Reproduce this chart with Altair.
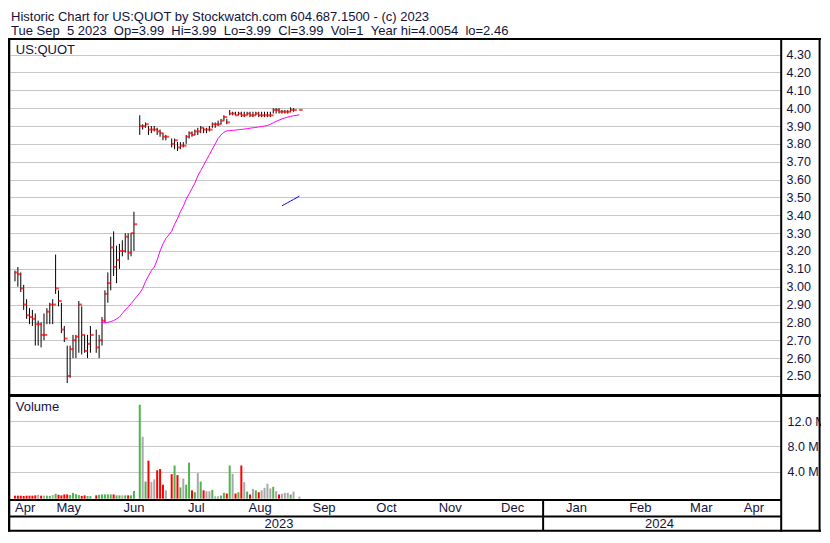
import altair as alt
import numpy as np
import pandas as pd

# ---------------- data ----------------
holidays = ["2023-05-29", "2023-06-19", "2023-07-04", "2023-09-04"]
trade_days = [d for d in pd.bdate_range("2023-04-20", "2023-09-05").strftime("%Y-%m-%d")
              if d not in holidays]

highs = [3.09, 3.11, 3.08, 3.01, 2.93, 2.88, 2.87, 2.85, 2.81, 2.80, 2.85, 2.88, 2.91, 2.93,
         3.18, 2.98, 2.91, 2.78, 2.67, 2.67, 2.73, 2.73, 2.92, 2.89, 2.73, 2.73, 2.78,
         2.76, 2.73, 2.83, 2.98, 3.08, 3.28, 3.31, 3.23, 3.24, 3.26, 3.30, 3.30, 3.30, 3.42,
         3.96, 3.91, 3.92, 3.90, 3.90, 3.90, 3.89, 3.88, 3.86, 3.85,
         3.83, 3.83, 3.81, 3.81, 3.81, 3.85, 3.87, 3.87, 3.88, 3.89, 3.90, 3.89, 3.89, 3.90,
         3.92, 3.92, 3.93, 3.94, 3.96,
         3.94, 3.99, 3.98, 3.98, 3.98, 3.98, 3.98, 3.98, 3.98, 3.98, 3.98, 3.98, 3.98, 3.98,
         3.98, 3.98, 4.00, 4.00, 4.00, 3.99, 3.99, 3.99, 4.005, 4.00,
         3.99]
lows = [3.03, 3.00, 2.97, 2.87, 2.82, 2.79, 2.78, 2.67, 2.67, 2.66, 2.70, 2.79, 2.79, 2.79,
        2.96, 2.89, 2.74, 2.69, 2.46, 2.49, 2.60, 2.60, 2.63, 2.62, 2.63, 2.60, 2.63,
        2.63, 2.60, 2.67, 2.80, 2.91, 2.98, 3.06, 3.02, 3.10, 3.17, 3.19, 3.15, 3.17, 3.20,
        3.85, 3.88, 3.89, 3.85, 3.86, 3.87, 3.85, 3.84, 3.82, 3.82,
        3.78, 3.77, 3.76, 3.77, 3.78, 3.80, 3.83, 3.84, 3.85, 3.85, 3.86, 3.86, 3.86, 3.87,
        3.89, 3.89, 3.90, 3.91, 3.93,
        3.91, 3.96, 3.96, 3.96, 3.96, 3.95, 3.95, 3.96, 3.95, 3.95, 3.96, 3.95, 3.95, 3.95,
        3.95, 3.95, 3.97, 3.97, 3.97, 3.97, 3.97, 3.97, 3.98, 3.98,
        3.99]
closes = [3.08, 3.07, 2.99, 2.90, 2.84, 2.83, 2.82, 2.79, 2.79, 2.73, 2.73, 2.86, 2.90, 2.90,
          2.99, 2.92, 2.76, 2.71, 2.50, 2.65, 2.70, 2.72, 2.90, 2.73, 2.64, 2.68, 2.73,
          2.66, 2.70, 2.81, 2.96, 3.02, 3.22, 3.11, 3.15, 3.20, 3.20, 3.28, 3.19, 3.30, 3.35,
          3.90, 3.90, 3.91, 3.88, 3.88, 3.88, 3.87, 3.86, 3.84, 3.84,
          3.80, 3.82, 3.78, 3.79, 3.79, 3.84, 3.86, 3.85, 3.87, 3.87, 3.89, 3.88, 3.88, 3.88,
          3.91, 3.91, 3.91, 3.93, 3.95,
          3.92, 3.97, 3.97, 3.96, 3.97, 3.96, 3.96, 3.97, 3.96, 3.96, 3.97, 3.96, 3.96, 3.96,
          3.96, 3.96, 3.99, 3.99, 3.98, 3.98, 3.98, 3.98, 3.99, 3.99,
          3.99]
prev_close = 3.10
volumes_m = [0.15, 0.15, 0.15, 0.10, 0.15, 0.15, 0.15, 0.20, 0.30, 0.15, 0.15, 0.15, 0.12, 0.25,
             0.45, 0.30, 0.20, 0.35, 0.35, 0.25, 0.60, 0.40, 0.25, 0.12, 0.20, 0.10, 0.08,
             0.20, 0.30, 0.35, 0.35, 0.35, 0.35, 0.35, 0.20, 0.20, 0.20, 0.20, 0.20, 0.20, 0.90,
             14.66, 9.54, 2.40, 5.74, 2.34, 2.75, 4.20, 4.40, 1.90, 1.00,
             3.58, 4.96, 3.43, 1.48, 2.87, 1.90, 5.43, 1.00, 0.70, 3.74, 2.40, 1.00, 0.86, 0.86,
             1.08, 0.06, 0.06, 0.17, 0.60,
             0.50, 4.96, 3.63, 0.50, 0.70, 4.96, 2.30, 0.80, 0.34, 1.24, 1.00, 0.70, 1.00, 1.40,
             2.05, 1.30, 1.56, 0.86, 0.34, 0.45, 0.60, 0.60, 0.34, 0.80,
             0.000001]
ma_magenta = [None] * 29 + [
    2.80, 2.797, 2.80, 2.805, 2.81, 2.82, 2.83, 2.85, 2.87, 2.885, 2.905, 2.925,
    2.965, 2.99, 3.03, 3.06, 3.09, 3.11, 3.15, 3.20, 3.24, 3.27,
    3.31, 3.35, 3.38, 3.42, 3.45, 3.49, 3.52, 3.55, 3.58, 3.62, 3.65, 3.68, 3.71, 3.74,
    3.77, 3.80, 3.83, 3.85, 3.865,
    3.873, 3.874, 3.876, 3.877, 3.879, 3.881, 3.883, 3.885, 3.888, 3.89, 3.892, 3.895,
    3.897, 3.90, 3.903, 3.91, 3.918, 3.926, 3.933, 3.94, 3.945, 3.95, 3.954, 3.957,
    3.963]
ma_blue = [None] * 89 + [3.453, 3.462, 3.471, 3.480, 3.489, 3.507]

price_ticks = [2.50, 2.60, 2.70, 2.80, 2.90, 3.00, 3.10, 3.20, 3.30, 3.40, 3.50, 3.60,
               3.70, 3.80, 3.90, 4.00, 4.10, 4.20, 4.30]
volume_ticks_m = [4, 8, 12]
month_starts = ["2023-04-01", "2023-05-01", "2023-06-01", "2023-07-01", "2023-08-01",
                "2023-09-01", "2023-10-01", "2023-11-01", "2023-12-01", "2024-01-01",
                "2024-02-01", "2024-03-01", "2024-04-01", "2024-05-01"]
month_names = ["Apr", "May", "Jun", "Jul", "Aug", "Sep", "Oct", "Nov", "Dec",
               "Jan", "Feb", "Mar", "Apr"]
year_starts = ["2023-01-01", "2024-01-01", "2025-01-01"]
year_names = ["2023", "2024"]

header1 = "Historic Chart for US:QUOT by Stockwatch.com 604.687.1500 - (c) 2023"
NB = "\u00a0"
header2 = ("Tue Sep " + NB + "5 2023 " + NB + "Op=3.99 " + NB + "Hi=3.99 " + NB + "Lo=3.99 "
           + NB + "Cl=3.99 " + NB + "Vol=1 " + NB + "Year hi=4.0054 " + NB + "lo=2.46")

# ---------------- tables ----------------
BASE = "2023-05-01"
idx = np.busday_count(BASE, trade_days).astype(int)
prev = [prev_close] + closes[:-1]
direction = ["up" if c > p + 1e-9 else ("down" if c < p - 1e-9 else "flat")
             for c, p in zip(closes, prev)]
df = pd.DataFrame({"date": trade_days, "idx": idx, "high": highs, "low": lows,
                   "close": closes, "vol": volumes_m, "dir": direction,
                   "ma": ma_magenta, "ma2": ma_blue})

X0, X1 = -6.99, 255.25  # visible weekday-index range
ms = np.busday_count(BASE, month_starts).astype(int)
grid_vals = [int(v) for v in ms if X0 < v < X1]
mids = [(max(ms[i], X0) + min(ms[i + 1], X1)) / 2 for i in range(len(month_names))]
months_df = pd.DataFrame({"name": month_names, "mid": mids})
ys = np.busday_count(BASE, year_starts).astype(int)
ymids = [(max(ys[i], X0) + min(ys[i + 1], X1)) / 2 for i in range(len(year_names))]
years_df = pd.DataFrame({"name": year_names, "mid": ymids})
jan_df = pd.DataFrame({"jan": [int(ys[1])]})
one = pd.DataFrame({"k": [0]})

# ---------------- styling ----------------
FONT = "Liberation Sans"
NAVY = "#12123c"
GRID = "#c8c8c8"
W, H = 771, 459

xs = alt.Scale(domain=[X0, X1], nice=False, zero=False)
ps = alt.Scale(domain=[2.399, 4.3818], range=[354, 0], nice=False, zero=False)
vs = alt.Scale(domain=[-0.38, 16.05], range=[459, 356], nice=False, zero=False)
X = alt.X("idx:Q", scale=xs, axis=None)

hl = alt.Chart(df).mark_rule(color="black", strokeWidth=1).encode(
    x=alt.X("idx:Q", scale=xs,
            axis=alt.Axis(values=grid_vals, grid=True, gridColor=GRID, gridWidth=1,
                          labels=False, ticks=False, domain=False, title=None)),
    y=alt.Y("low:Q", scale=ps,
            axis=alt.Axis(orient="right", values=price_ticks, format=".2f", grid=True,
                          gridColor=GRID, gridWidth=1, ticks=False, domain=False,
                          labelPadding=5, labelFont=FONT, labelFontSize=12.5,
                          labelColor=NAVY, labelAlign="left", labelBaseline="middle",
                          title=None)),
    y2="high:Q",
)
cl = alt.Chart(df).mark_tick(color="#ff0000", orient="horizontal", size=3.5,
                             thickness=2, xOffset=1.5).encode(
    x=X, y=alt.Y("close:Q", scale=ps, axis=None))
ma1 = alt.Chart(df).mark_line(color="#ff00ff", strokeWidth=1).encode(
    x=X, y=alt.Y("ma:Q", scale=ps, axis=None))
ma2 = alt.Chart(df).mark_line(color="#0000ff", strokeWidth=1).encode(
    x=X, y=alt.Y("ma2:Q", scale=ps, axis=None))

vb = alt.Chart(df).mark_bar(size=2).encode(
    x=X,
    y=alt.Y("vol:Q", scale=vs,
            axis=alt.Axis(orient="right", values=volume_ticks_m,
                          labelExpr="format(datum.value, '.1f') + ' M'", grid=True,
                          gridColor=GRID, gridWidth=1, ticks=False, domain=False,
                          labelPadding=6, labelFont=FONT, labelFontSize=12.5,
                          labelColor=NAVY, labelAlign="left", labelBaseline="middle",
                          title=None)),
    y2=alt.datum(-0.33),
    color=alt.Color("dir:N", scale=alt.Scale(domain=["up", "down", "flat"],
                                             range=["#4fb34f", "#ff0000", "#a8a8a8"]),
                    legend=None),
)

mt = alt.Chart(months_df).mark_text(font=FONT, fontSize=13, color=NAVY, align="center",
                                    baseline="middle").encode(
    x=alt.X("mid:Q", scale=xs, axis=None), y=alt.value(468), text="name:N")
yt = alt.Chart(years_df).mark_text(font=FONT, fontSize=13, color=NAVY, align="center",
                                   baseline="middle").encode(
    x=alt.X("mid:Q", scale=xs, axis=None), y=alt.value(483.5), text="name:N")
ysep = alt.Chart(jan_df).mark_rule(color="black", strokeWidth=2).encode(
    x=alt.X("jan:Q", scale=xs, axis=None), y=alt.value(460), y2=alt.value(491))


def hline(y, x1, x2, w=2):
    return alt.Chart(one).mark_rule(color="black", strokeWidth=w).encode(
        x=alt.value(x1), x2=alt.value(x2), y=alt.value(y))


def vline(x, y1, y2, w=2):
    return alt.Chart(one).mark_rule(color="black", strokeWidth=w).encode(
        x=alt.value(x), y=alt.value(y1), y2=alt.value(y2))


def txt(s, x, y, size=13):
    return alt.Chart(one).mark_text(text=s, font=FONT, fontSize=size, color=NAVY,
                                    align="left", baseline="middle").encode(
        x=alt.value(x), y=alt.value(y))


frame = [
    hline(-1, -2, 811),          # top
    hline(355.5, -2, 811, 3),    # price / volume separator
    hline(460, -2, 771.2),       # volume bottom
    hline(476.4, -2, 771.2),     # month / year separator
    hline(490.8, -2, 811),       # bottom
    vline(-1, -2, 491.8, 2.6),   # left
    vline(771.2, -2, 491.8),     # plot right edge
    vline(809.6, -2, 491.8),     # outer right
]
texts = [
    txt(header1, 1, -23.3),
    txt(header2, 1, -8.8),
    txt("US:QUOT", 5.8, 9.5),
    txt("Volume", 5.8, 366.5),
]

chart = alt.layer(hl, cl, ma1, ma2, vb, mt, yt, ysep, *frame, *texts).resolve_scale(
    y="independent"
).properties(
    width=W, height=H,
    padding={"left": 2, "top": 32, "right": 40, "bottom": 33},
    autosize=alt.AutoSizeParams(type="none"),
).configure_view(stroke=None)

chart.save("out.html", embed_options={"renderer": "svg", "actions": False})
